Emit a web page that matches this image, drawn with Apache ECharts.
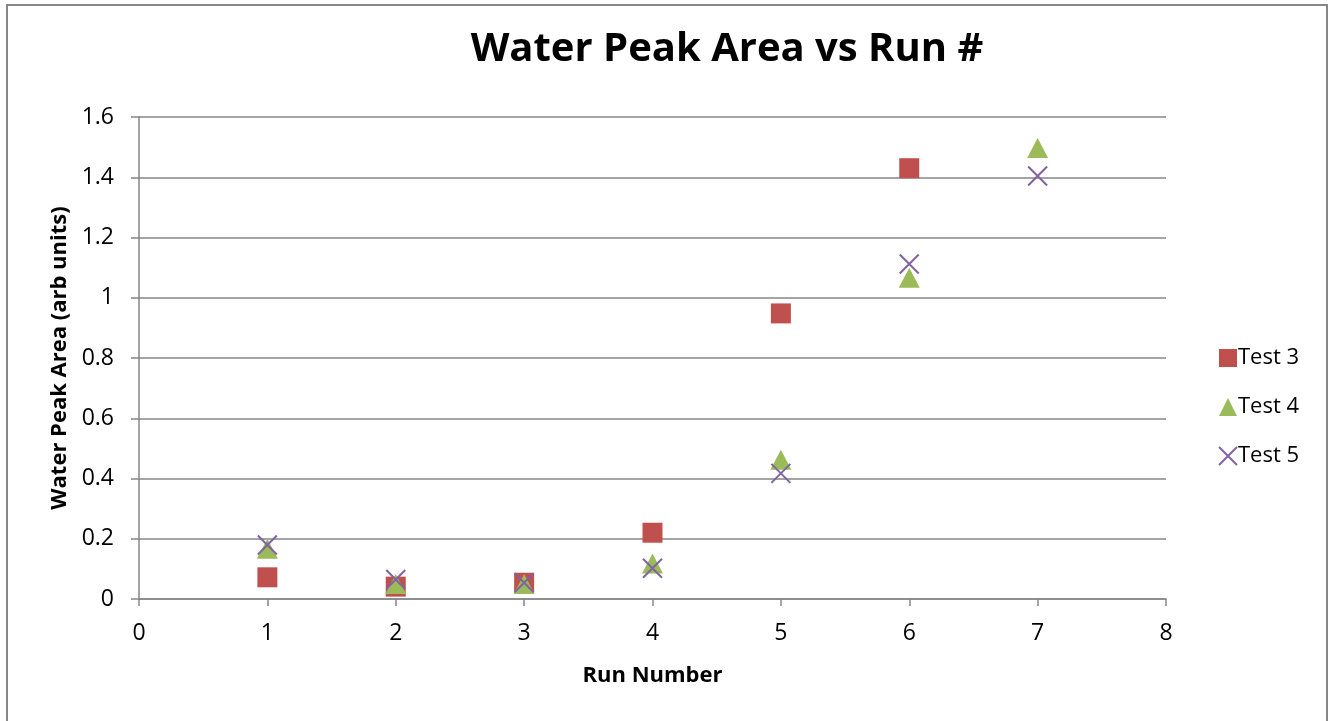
<!DOCTYPE html>
<html><head><meta charset="utf-8">
<script src="https://cdn.jsdelivr.net/npm/echarts@6/dist/echarts.min.js"></script>
<style>html,body{margin:0;padding:0;background:#fff}#c{width:1336px;height:721px}</style>
</head><body><div id="c"></div>
<script>
const runs = [1, 2, 3, 4, 5, 6, 7];
const test3 = [0.072, 0.041, 0.054, 0.22, 0.948, 1.43, null];
const test4 = [0.167, 0.05, 0.05, 0.118, 0.462, 1.066, 1.497];
const test5 = [0.179, 0.065, 0.054, 0.102, 0.417, 1.112, 1.404];
const seriesNames = ['Test 3', 'Test 4', 'Test 5'];
const yTicks = [0, 0.2, 0.4, 0.6, 0.8, 1, 1.2, 1.4, 1.6];

function pairs(vals){ return runs.map((r,i)=>[r, vals[i]]).filter(p=>p[1]!==null); }
const FONT = 'Open Sans';
const chart = echarts.init(document.getElementById('c'), null, {renderer:'canvas'});
chart.setOption({
  animation:false,
  backgroundColor:'#fff',
  textStyle:{fontFamily:FONT},
  title:{text:'Water Peak Area vs Run #', left:722, top:25, textAlign:'center',
    textStyle:{fontFamily:FONT, fontSize:40, fontWeight:'bold', color:'#000'}},
  grid:{left:139, right:170, top:117, bottom:122, containLabel:false},
  graphic:[{type:'rect', shape:{x:7,y:5,width:1320,height:760}, style:{fill:'none', stroke:'#868686', lineWidth:2}, silent:true}],
  legend:{orient:'vertical', left:1213, top:342, itemGap:27, itemWidth:18, itemHeight:18,
    textStyle:{fontFamily:FONT, fontSize:22, color:'#000', padding:[0,0,0,-4]},
    data:seriesNames},
  xAxis:{type:'value', min:0, max:8, interval:1,
    name:'Run Number', nameLocation:'middle', nameGap:66,
    nameTextStyle:{fontFamily:FONT, fontSize:22, fontWeight:'bold', color:'#000'},
    axisLine:{show:true, onZero:false, lineStyle:{color:'#868686', width:1.5}},
    axisTick:{show:true, inside:false, length:7, lineStyle:{color:'#868686', width:1.5}},
    axisLabel:{fontFamily:FONT, fontSize:23, color:'#000', margin:23},
    splitLine:{show:false}},
  yAxis:{type:'value', min:0, max:1.6, interval:0.2,
    name:'Water Peak Area (arb units)', nameLocation:'middle', nameGap:66,
    nameTextStyle:{fontFamily:FONT, fontSize:22, fontWeight:'bold', color:'#000'},
    axisLine:{show:true, lineStyle:{color:'#868686', width:1.5}},
    axisTick:{show:true, inside:false, length:8, lineStyle:{color:'#868686', width:1.5}},
    axisLabel:{fontFamily:FONT, fontSize:23, color:'#000', margin:25,
      formatter:v=>{const t=yTicks.find(x=>Math.abs(x-v)<1e-9); return String(t!==undefined?t:v);}},
    splitLine:{show:true, lineStyle:{color:'#868686', width:1.5}}},
  series:[
    {name:seriesNames[0], type:'scatter', data:pairs(test3), symbol:'rect', symbolSize:20,
      itemStyle:{color:'#C0504D', opacity:1}, z:2},
    {name:seriesNames[1], type:'scatter', data:pairs(test4), symbol:'triangle', symbolSize:[21,20],
      itemStyle:{color:'#9BBB59', opacity:1}, z:3},
    {name:seriesNames[2], type:'scatter', data:pairs(test5), symbol:'path://M0,0L10,10M10,0L0,10', symbolSize:19,
      itemStyle:{color:'rgba(0,0,0,0)', borderColor:'#8064A2', borderWidth:2, opacity:1}, z:4}
  ]
});
</script></body></html>
